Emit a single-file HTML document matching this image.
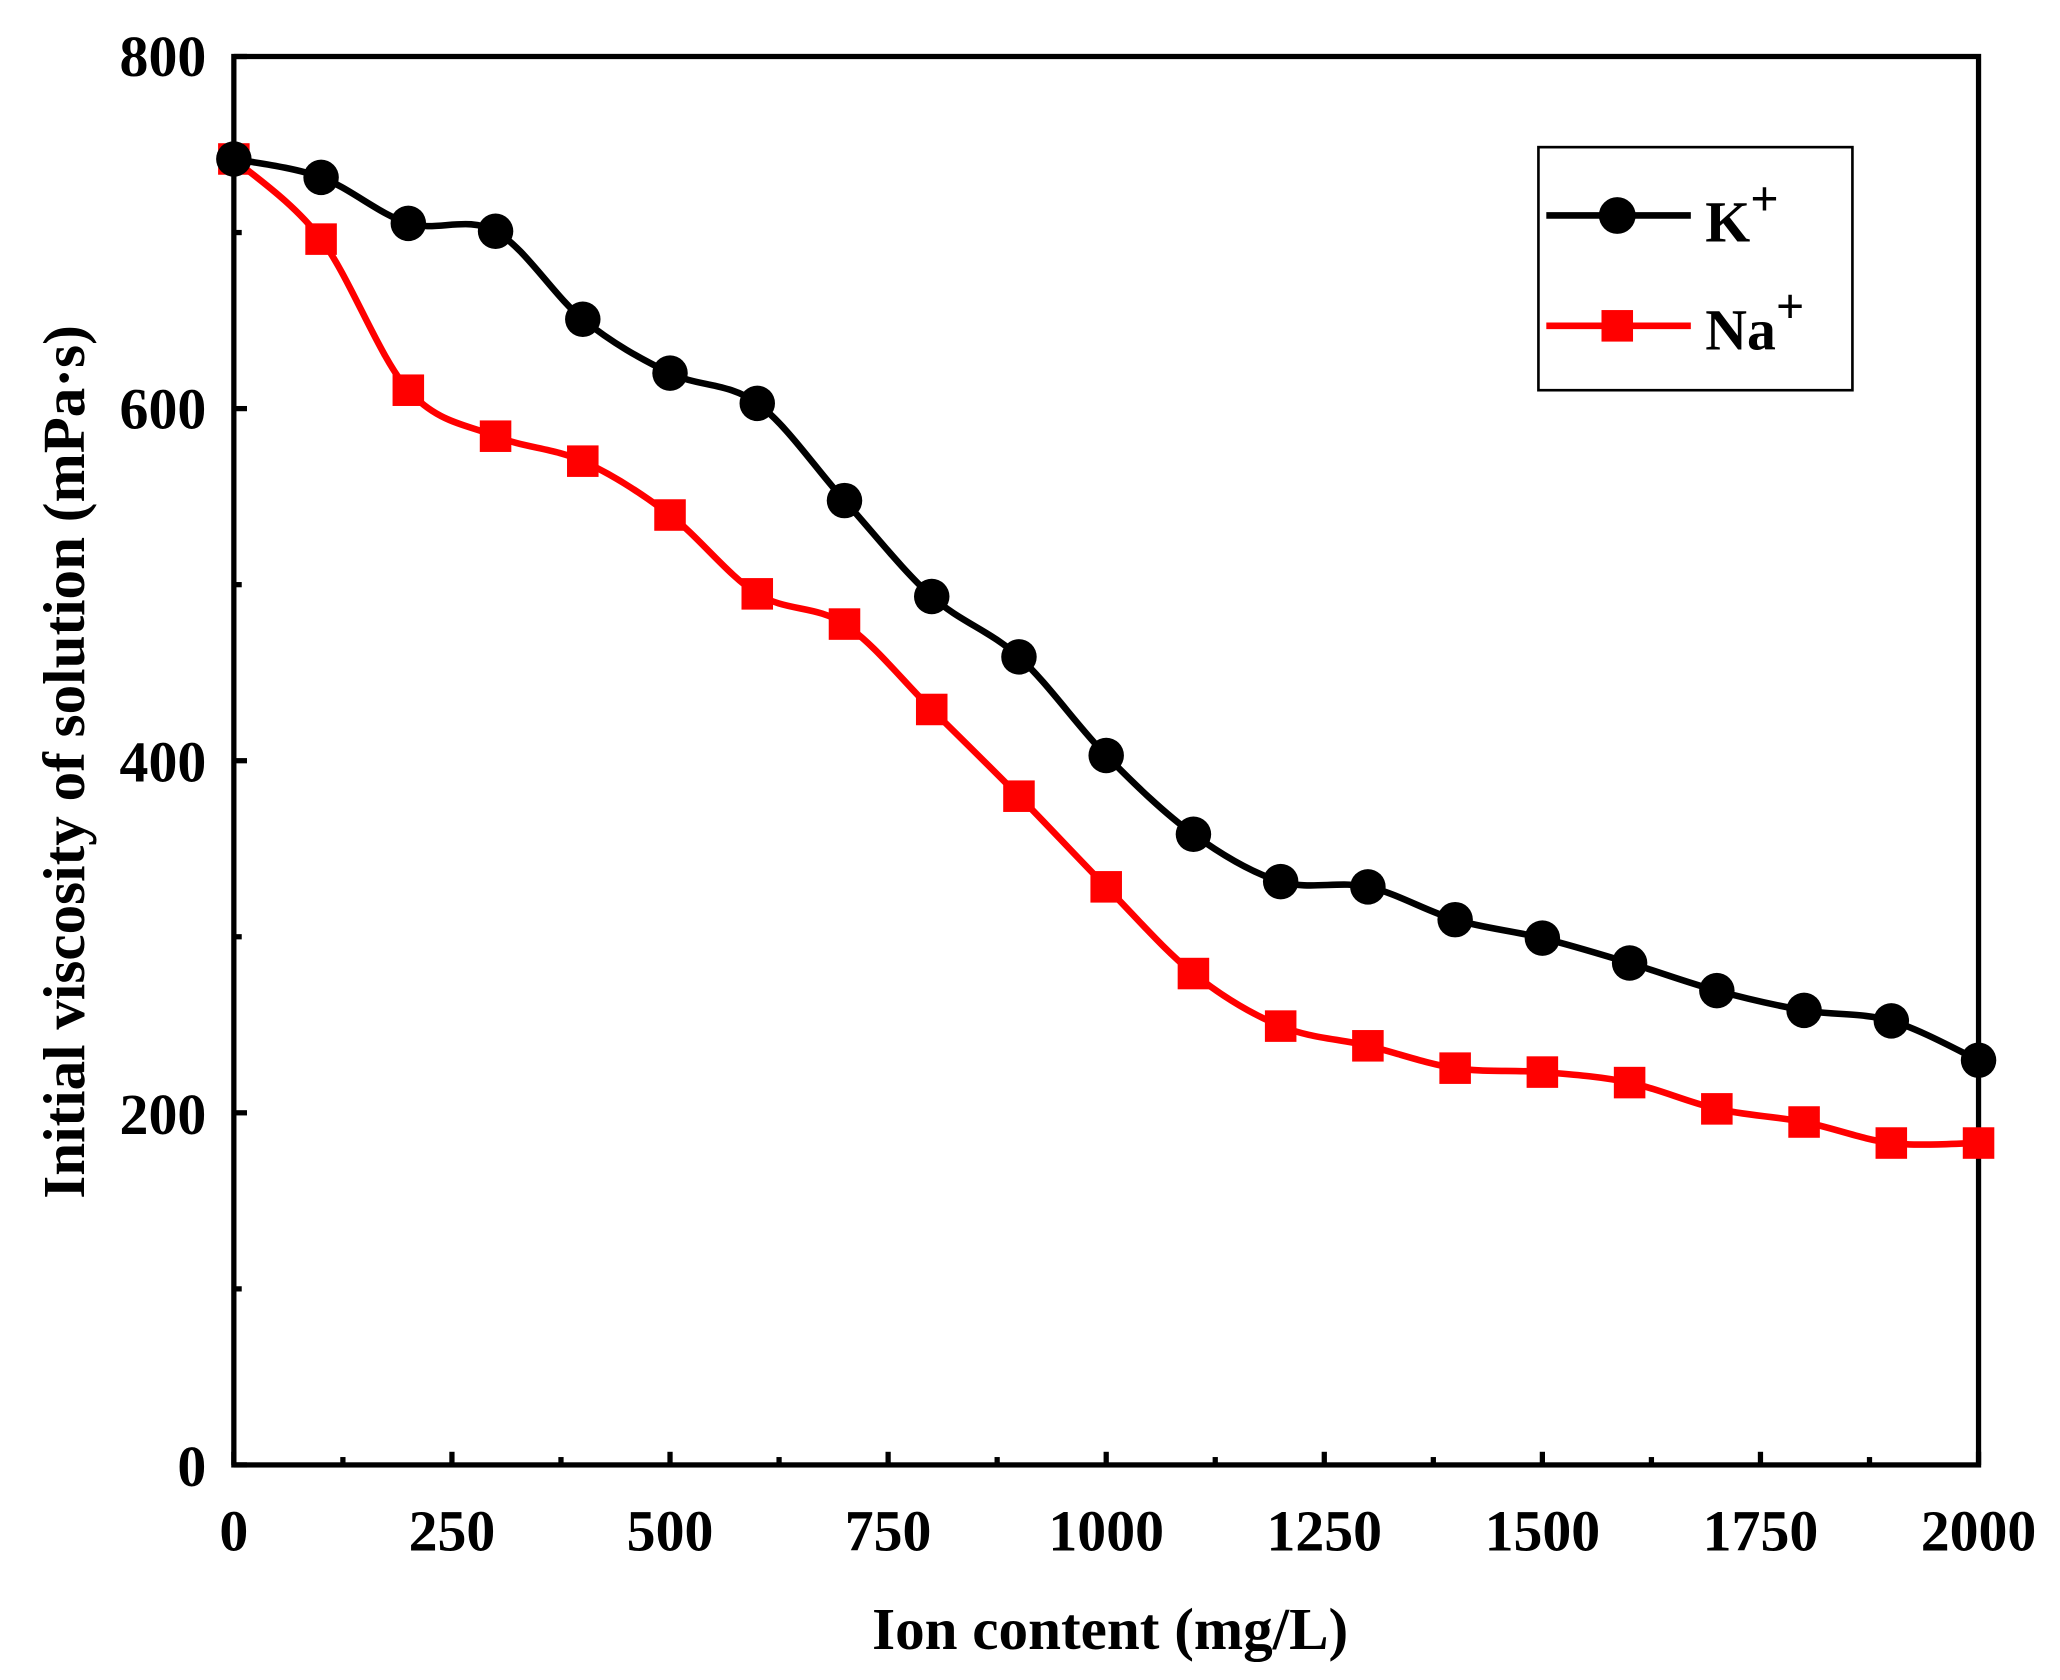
<!DOCTYPE html>
<html><head><meta charset="utf-8"><style>html,body{margin:0;padding:0;background:#fff}svg{display:block}text{font-family:"Liberation Serif",serif;font-weight:bold;fill:#000}</style></head>
<body>
<svg id="s" width="2060" height="1680" viewBox="0 0 1568 1278.7" preserveAspectRatio="none" xmlns="http://www.w3.org/2000/svg">
<rect x="178" y="43" width="1328" height="1072" fill="none" stroke="#000" stroke-width="4"/>
<g id="ticks" stroke="#000" stroke-width="4"></g>
<g font-size="44" text-anchor="end">
<text x="157" y="1131">0</text><text x="157" y="863">200</text><text x="157" y="595">400</text><text x="157" y="326">600</text><text x="157" y="58">800</text>
</g>
<g font-size="44" text-anchor="middle">
<text x="178" y="1180">0</text><text x="344" y="1180">250</text><text x="510" y="1180">500</text><text x="676" y="1180">750</text><text x="842" y="1180">1000</text><text x="1008" y="1180">1250</text><text x="1174" y="1180">1500</text><text x="1340" y="1180">1750</text><text x="1506" y="1180">2000</text>
</g>
<text x="845" y="1255" font-size="45" text-anchor="middle">Ion content (mg/L)</text>
<text transform="translate(64,580) rotate(-90)" font-size="45" text-anchor="middle">Initial viscosity of solution (mPa·s)</text>
<path id="na" fill="none" stroke="#f00" stroke-width="5"/>
<path id="k" fill="none" stroke="#000" stroke-width="5"/>
<g id="nam" fill="#f00"></g>
<g id="km" fill="#000"></g>
<rect x="1171" y="112" width="239" height="185" fill="none" stroke="#000" stroke-width="2"/>
<line x1="1177" y1="164" x2="1287" y2="164" stroke="#000" stroke-width="5"/>
<circle cx="1231" cy="164" r="14"/>
<line x1="1177" y1="248" x2="1287" y2="248" stroke="#f00" stroke-width="5"/>
<rect x="1219" y="236" width="24" height="24" fill="#f00"/>
<text x="1298" y="184" font-size="44">K<tspan dy="-20" font-size="38">+</tspan></text>
<text x="1298" y="266" font-size="44">Na<tspan dy="-20" font-size="38">+</tspan></text>
</svg>
<script>
var K=[121,135,170,176,243,284,307,381,454,500,575,635,671,675,700,714,733,754,769,777,807];
var N=[121,182,297,332,351,392,452,475,540,606,675,741,781,796,813,816,824,844,854,870,870];
function X(i){return 178+i*66.4;}
function path(a){var p=a.map(function(y,i){return[X(i),y]});var d="M"+p[0][0]+","+p[0][1];
for(var i=0;i<p.length-1;i++){var p0=p[i-1]||p[i],p1=p[i],p2=p[i+1],p3=p[i+2]||p2;
d+=" C"+(p1[0]+(p2[0]-p0[0])/6)+","+(p1[1]+(p2[1]-p0[1])/6)+" "+(p2[0]-(p3[0]-p1[0])/6)+","+(p2[1]-(p3[1]-p1[1])/6)+" "+p2[0]+","+p2[1];}return d;}
document.getElementById("k").setAttribute("d",path(K));
document.getElementById("na").setAttribute("d",path(N));
var h="";
N.forEach(function(y,i){h+='<rect x="'+(X(i)-12)+'" y="'+(y-12)+'" width="24" height="24"/>';});
document.getElementById("nam").innerHTML=h;h="";
K.forEach(function(y,i){h+='<circle cx="'+X(i)+'" cy="'+y+'" r="13.5"/>';});
document.getElementById("km").innerHTML=h;h="";
for(var v=0;v<=800;v+=100){var y=1115-v*1.34,l=v%200?6:10;h+='<line x1="178" y1="'+y+'" x2="'+(178+l)+'" y2="'+y+'"/>';}
for(var v=0;v<=2000;v+=125){var x=178+v*0.664,l=v%250?6:10;h+='<line x1="'+x+'" y1="1115" x2="'+x+'" y2="'+(1115-l)+'"/>';}
document.getElementById("ticks").innerHTML=h;
</script>
</body></html>
